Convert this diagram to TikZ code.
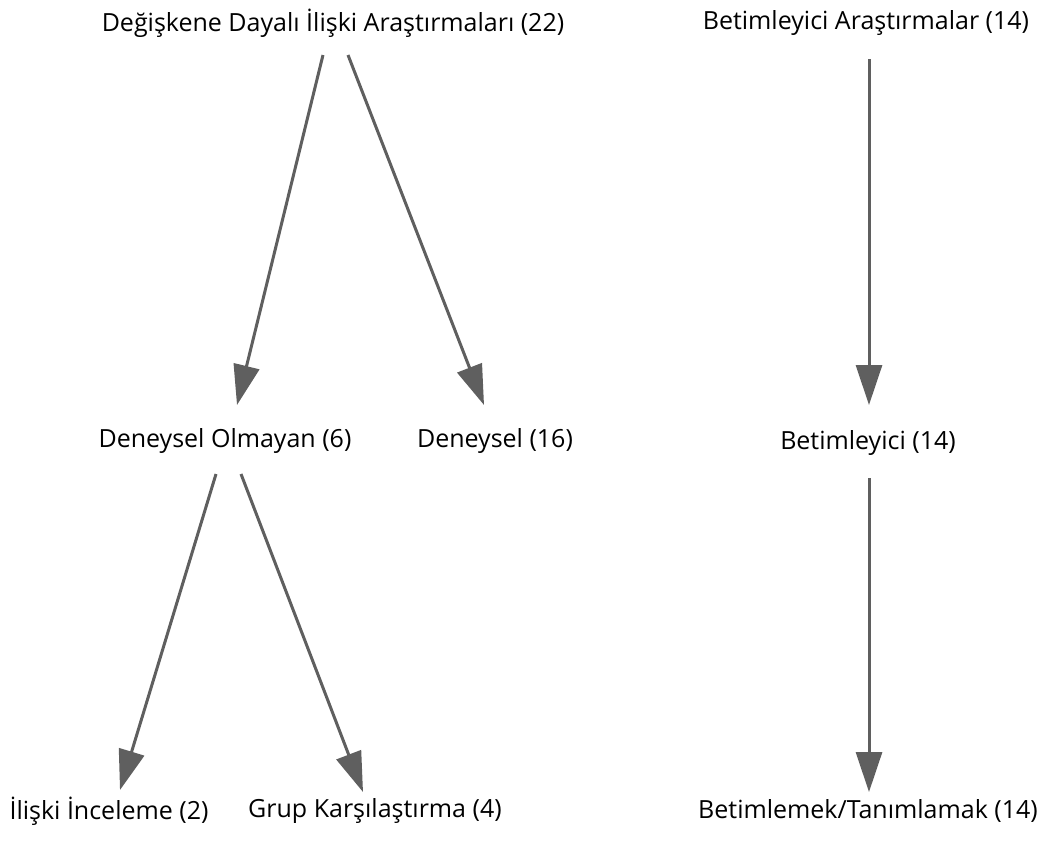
\documentclass[tikz,border=0pt]{standalone}
\usepackage{fontspec}
\setmainfont{Open Sans}
\usetikzlibrary{arrows.meta}
\definecolor{arrowgray}{HTML}{5F5F5F}
\begin{document}
\begin{tikzpicture}[x=1pt,y=-1pt,
  lbl/.style={font=\fontsize{25}{30}\selectfont, inner sep=0pt, text=black},
  conn/.style={draw=arrowgray, line width=3pt, -{Triangle[length=40pt,width=26pt]}}]
\useasboundingbox (0,0) rectangle (1048,846);
\node[lbl] (a) at (333,23) {Değişkene Dayalı İlişki Araştırmaları (22)};
\node[lbl] (f) at (866,23) {Betimleyici Araştırmalar (14)};
\node[lbl] (b) at (225,441) {Deneysel Olmayan (6)};
\node[lbl] (c) at (495,441) {Deneysel (16)};
\node[lbl] (g) at (868,443) {Betimleyici (14)};
\node[lbl] (d) at (109,811) {İlişki İnceleme (2)};
\node[lbl] (e) at (375,811) {Grup Karşılaştırma (4)};
\node[lbl] (h) at (868,811) {Betimlemek/Tanımlamak (14)};
\draw[conn] ([shift={(-10,32)}]a.center) -- ([shift={(12,-36)}]b.center);
\draw[conn] ([shift={(15,32)}]a.center) -- ([shift={(-11,-36)}]c.center);
\draw[conn] ([shift={(-9,33)}]b.center) -- ([shift={(11,-21)}]d.center);
\draw[conn] ([shift={(16,33)}]b.center) -- ([shift={(-12,-19)}]e.center);
\draw[conn] ([shift={(3,36)}]f.center) -- ([shift={(1,-38)}]g.center);
\draw[conn] ([shift={(1,35)}]g.center) -- ([shift={(1,-19)}]h.center);
\end{tikzpicture}
\end{document}
